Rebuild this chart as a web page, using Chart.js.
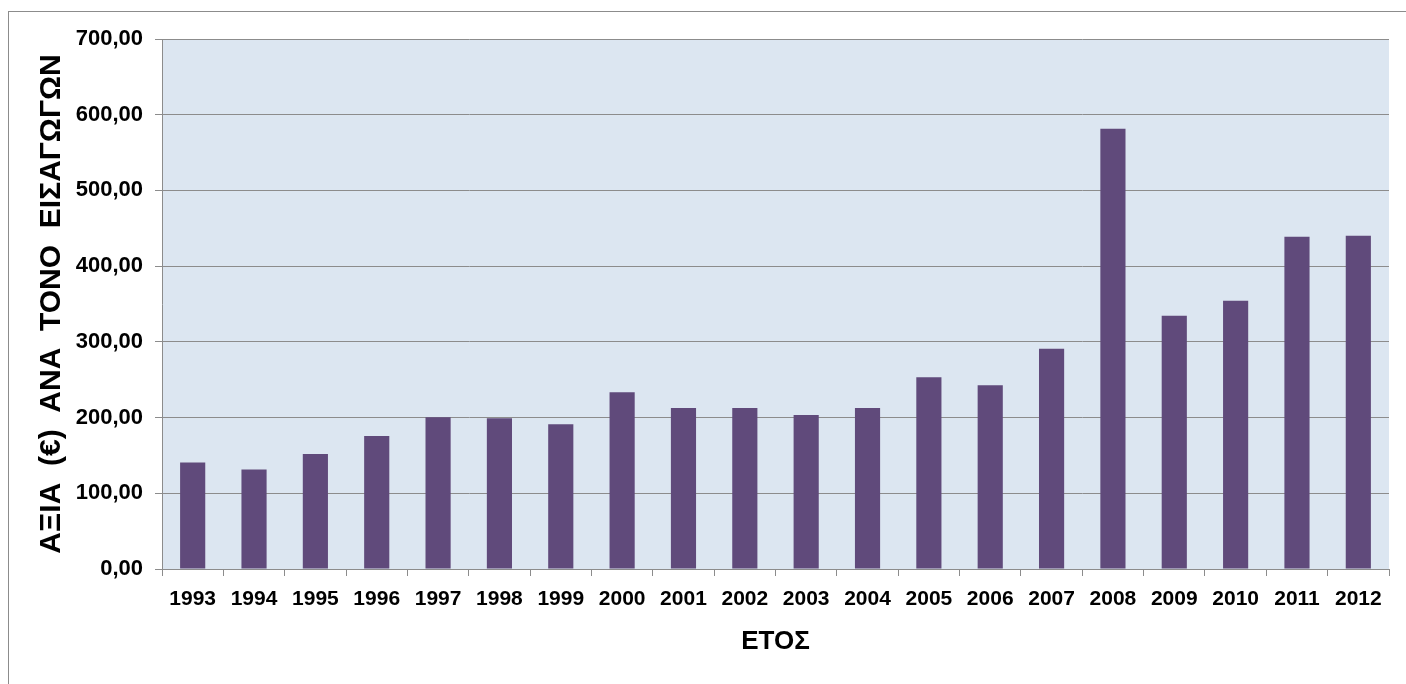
<!DOCTYPE html>
<html>
<head>
<meta charset="utf-8">
<script src="https://cdn.jsdelivr.net/npm/chart.js@4/dist/chart.umd.min.js"></script>
<style>
  html, body { margin: 0; padding: 0; background: #ffffff; }
  #wrap { position: relative; width: 1406px; height: 684px; }
</style>
</head>
<body>
<div id="wrap"><canvas id="c" width="1406" height="684"></canvas></div>
<script>
const years = ['1993','1994','1995','1996','1997','1998','1999','2000','2001','2002','2003','2004','2005','2006','2007','2008','2009','2010','2011','2012'];
const valuePerTon = [140.5, 131.3, 151.8, 175.5, 200.3, 199.2, 191.2, 233.5, 212.5, 212.5, 203.3, 212.5, 253.3, 242.6, 290.8, 581.5, 334.5, 354.2, 438.8, 440.2];
const yTicks = [0, 100, 200, 300, 400, 500, 600, 700];
const yTitle = 'ΑΞΙΑ  (€)  ΑΝΑ  ΤΟΝΟ  ΕΙΣΑΓΩΓΩΝ';
const xTitle = 'ΕΤΟΣ';

const FONT = '"Liberation Sans", Arial, Helvetica, sans-serif';

const bgPlugin = {
  id: 'bgPlugin',
  beforeDraw(chart) {
    const ctx = chart.ctx;
    const a = chart.chartArea;
    ctx.save();
    ctx.fillStyle = '#ffffff';
    ctx.fillRect(0, 0, chart.width, chart.height);
    ctx.strokeStyle = '#8c8c8c';
    ctx.lineWidth = 1;
    ctx.strokeRect(8.5, 11.5, chart.width + 10, chart.height + 10);
    ctx.fillStyle = '#dce6f1';
    ctx.fillRect(a.left, a.top, a.right - a.left, a.bottom - a.top);
    ctx.restore();
  }
};

new Chart(document.getElementById('c'), {
  type: 'bar',
  data: {
    labels: years,
    datasets: [{
      data: valuePerTon,
      backgroundColor: '#604a7b',
      borderWidth: 0,
      barPercentage: 0.41,
      categoryPercentage: 1.0
    }]
  },
  options: {
    responsive: false,
    animation: false,
    devicePixelRatio: 1,
    layout: { padding: { left: 0, top: 39, right: 17, bottom: 0 } },
    plugins: { legend: { display: false }, tooltip: { enabled: false } },
    scales: {
      x: {
        offset: true,
        grid: { display: true, offset: true, drawOnChartArea: false, drawTicks: true, tickLength: 7, color: '#8c8c8c', lineWidth: 1 },
        border: { display: true, color: '#8c8c8c', width: 1 },
        ticks: { color: '#000000', font: { family: FONT, size: 21, weight: 'bold' }, padding: 11, maxRotation: 0, autoSkip: false },
        title: { display: true, text: xTitle, color: '#000000', font: { family: FONT, size: 26, weight: 'bold' }, padding: { top: 0, bottom: 27 } },
        afterFit(scale) { scale.height = 115; }
      },
      y: {
        min: 0,
        max: 700,
        afterBuildTicks(scale) { scale.ticks = yTicks.map(v => ({ value: v })); },
        grid: { display: true, drawOnChartArea: true, drawTicks: true, tickLength: 7, color: '#8c8c8c', lineWidth: 1 },
        border: { display: true, color: '#8c8c8c', width: 1 },
        ticks: {
          color: '#000000',
          font: { family: FONT, size: 22, weight: 'bold' },
          padding: 12,
          callback: (v) => Number(v).toFixed(2).replace('.', ',')
        },
        title: { display: true, text: yTitle, color: '#000000', font: { family: FONT, size: 30, weight: 'bold' }, padding: { top: 34, bottom: 0 } },
        afterFit(scale) { scale.width = 162; }
      }
    }
  },
  plugins: [bgPlugin]
});
</script>
</body>
</html>
